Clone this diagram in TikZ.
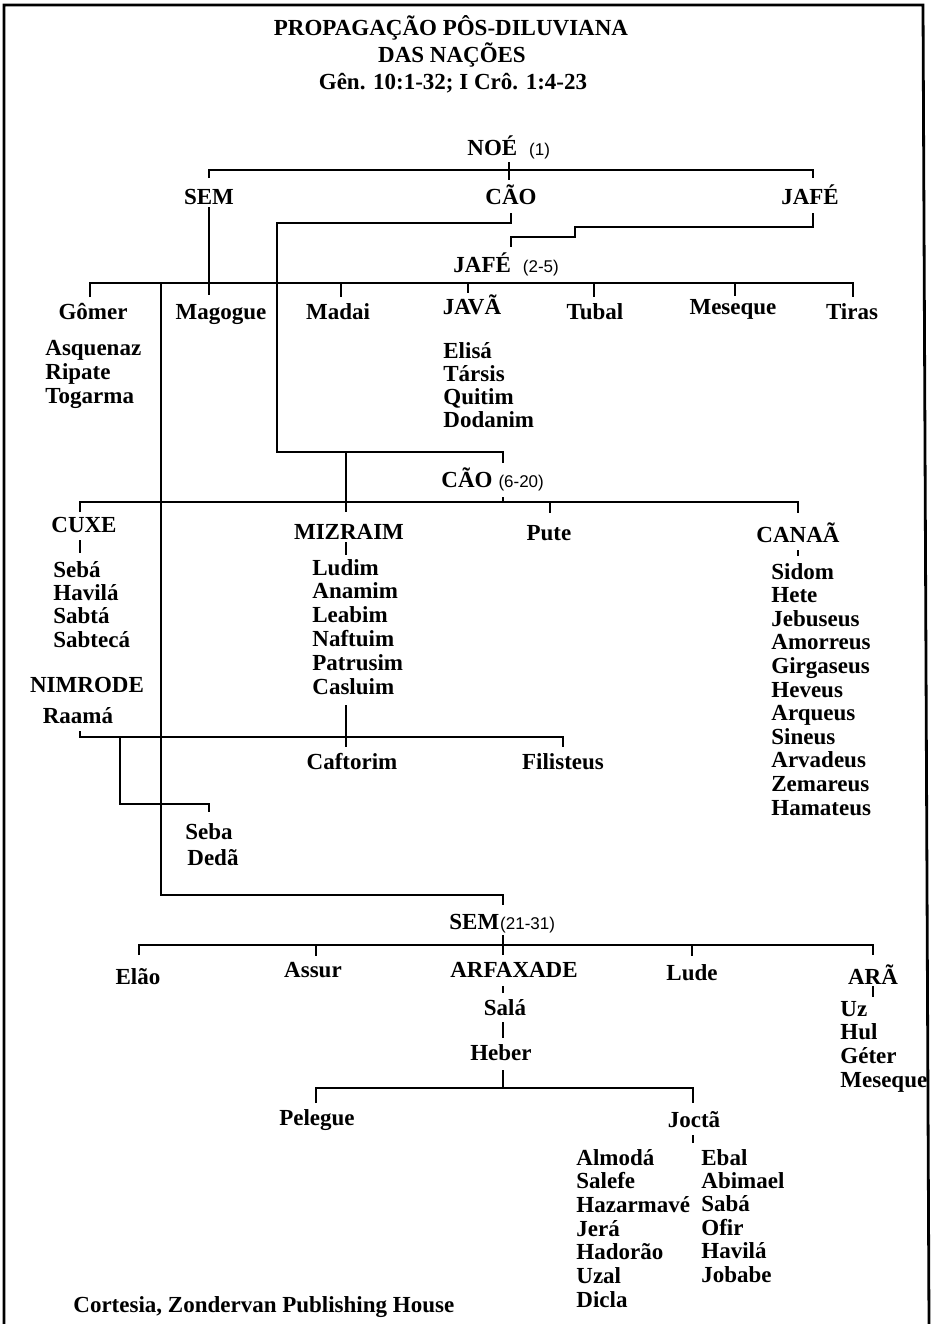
\documentclass[tikz,border=0pt]{standalone}
\usepackage{fontspec}
\setmainfont{Liberation Serif}
\newfontfamily\parfont{Liberation Sans}
\newcommand\pn[1]{{\parfont\mdseries\fontsize{8.5}{10}\selectfont #1}}
\begin{document}
\begin{tikzpicture}[x=0.5pt,y=-0.5pt,
  lbl/.style={font=\fontsize{11.5}{13}\selectfont\bfseries, inner sep=0pt, anchor=base},
  lst/.style={lbl, anchor=base west},
  ln/.style={line width=1pt, line cap=butt, line join=miter},
  frame/.style={line width=1.4pt}]
\useasboundingbox (0,0) rectangle (937,1324);
% frame (open at the bottom)
\draw[frame] (4,1324) -- (4,5) -- (923,5) -- (929,1324);

% title
\node[lbl] (t1) at (451,35) {PROPAGAÇÃO PÔS-DILUVIANA};
\node[lbl] (t2) at (452,62) {DAS NAÇÕES};
\node[lbl] (t3) at (453,89) {Gên. 10:1-32; I Crô. 1:4-23};

% Noé and sons
\node[lst] (noe) at (467,155) {NOÉ\hspace{6pt}\pn{(1)}};
\node[lbl] (sem) at (209,204) {SEM};
\node[lbl] (cao) at (511,204) {CÃO};
\node[lbl] (jafe) at (810,204) {JAFÉ};
\draw[ln] (509,162) -- (509,180);
\draw[ln] (209,178) -- (209,170) -- (813,170) -- (813,178);

% Jafé (2-5)
\node[lst] (jafe2) at (453,272) {JAFÉ\hspace{6pt}\pn{(2-5)}};
\draw[ln] (813,213) -- (813,227) -- (575,227) -- (575,237) -- (511,237) -- (511,247);
\draw[ln] (90,297) -- (90,283) -- (853,283) -- (853,297);
\foreach \x/\y in {341/297,468/293,594/297,735/296} \draw[ln] (\x,283) -- (\x,\y);

\node[lbl] (gomer) at (93,319) {Gômer};
\node[lbl] (magogue) at (221,319) {Magogue};
\node[lbl] (madai) at (338,319) {Madai};
\node[lbl] (java) at (472,314) {JAVÃ};
\node[lbl] (tubal) at (595,319) {Tubal};
\node[lbl] (meseque) at (733,314) {Meseque};
\node[lbl] (tiras) at (852,319) {Tiras};

\foreach \t [count=\i] in {Asquenaz,Ripate,Togarma}
  \node[lst] (go\i) at (45,{355+(\i-1)*24}) {\t};
\foreach \t [count=\i] in {Elisá,Társis,Quitim,Dodanim}
  \node[lst] (ja\i) at (443,{358+(\i-1)*23}) {\t};

% Sem line down to Sem (21-31)
\draw[ln] (209,207) -- (209,295);
\draw[ln] (161,283) -- (161,895) -- (503,895) -- (503,905);

% Cão line down to Cão (6-20)
\draw[ln] (511,213) -- (511,223) -- (277,223) -- (277,452) -- (503,452) -- (503,463);
\draw[ln] (346,452) -- (346,512);
\node[lst] (cao2) at (441,487) {CÃO\hspace{3pt}\pn{(6-20)}};
\draw[ln] (503,497) -- (503,502);
\draw[ln] (80,512) -- (80,502) -- (798,502) -- (798,513);
\draw[ln] (550,502) -- (550,513);

\node[lbl] (cuxe) at (84,532) {CUXE};
\node[lbl] (mizraim) at (349,539) {MIZRAIM};
\node[lbl] (pute) at (549,540) {Pute};
\node[lbl] (canaa) at (798,542) {CANAÃ};
\draw[ln] (80,540) -- (80,553);
\draw[ln] (346,542) -- (346,555);
\draw[ln] (798,550) -- (798,556);

\foreach \t [count=\i] in {Sebá,Havilá,Sabtá,Sabtecá}
  \node[lst] (cu\i) at (53,{577+(\i-1)*23.4}) {\t};
\node[lbl] (nimrode) at (87,692) {NIMRODE};
\node[lbl] (raama) at (78,723) {Raamá};
\foreach \t [count=\i] in {Ludim,Anamim,Leabim,Naftuim,Patrusim,Casluim}
  \node[lst] (mi\i) at (312,{575+(\i-1)*23.8}) {\t};
\foreach \t [count=\i] in {Sidom,Hete,Jebuseus,Amorreus,Girgaseus,Heveus,Arqueus,Sineus,Arvadeus,Zemareus,Hamateus}
  \node[lst] (ca\i) at (771,{579+(\i-1)*23.6}) {\t};

\draw[ln] (80,731) -- (80,737) -- (563,737) -- (563,747);
\draw[ln] (346,705) -- (346,747);
\draw[ln] (120,737) -- (120,804) -- (209,804) -- (209,812);
\node[lbl] (caftorim) at (352,769) {Caftorim};
\node[lbl] (filisteus) at (563,769) {Filisteus};
\node[lst] (seba) at (185,839) {Seba};
\node[lst] (deda) at (187,865) {Dedã};

% Sem (21-31)
\node[lst] (sem2) at (449,929) {SEM\hspace{0.5pt}\pn{(21-31)}};
\draw[ln] (503,935) -- (503,955);
\draw[ln] (139,955) -- (139,945) -- (873,945) -- (873,955);
\draw[ln] (316,945) -- (316,956);
\draw[ln] (692,945) -- (692,956);

\node[lbl] (elao) at (138,984) {Elão};
\node[lbl] (assur) at (313,977) {Assur};
\node[lbl] (arfaxade) at (514,977) {ARFAXADE};
\node[lbl] (lude) at (692,980) {Lude};
\node[lbl] (ara) at (873,984) {ARÃ};
\draw[ln] (873,986) -- (873,997);
\foreach \t [count=\i] in {Uz,Hul,Géter,Meseque}
  \node[lst] (ar\i) at (840,{1016+(\i-1)*23.7}) {\t};

\draw[ln] (503,986) -- (503,993);
\node[lbl] (sala) at (505,1015) {Salá};
\draw[ln] (503,1022) -- (503,1038);
\node[lbl] (heber) at (501,1060) {Heber};
\draw[ln] (503,1070) -- (503,1088);
\draw[ln] (316,1103) -- (316,1088) -- (693,1088) -- (693,1103);
\node[lbl] (pelegue) at (317,1125) {Pelegue};
\node[lbl] (jocta) at (694,1127) {Joctã};
\draw[ln] (693,1135) -- (693,1143);

\foreach \t [count=\i] in {Almodá,Salefe,Hazarmavé,Jerá,Hadorão,Uzal,Dicla}
  \node[lst] (jl\i) at (576,{1165+(\i-1)*23.7}) {\t};
\foreach \t [count=\i] in {Ebal,Abimael,Sabá,Ofir,Havilá,Jobabe}
  \node[lst] (jr\i) at (701,{1165+(\i-1)*23.4}) {\t};

\node[lst] (cortesia) at (73,1312) {Cortesia, Zondervan Publishing House};
\end{tikzpicture}
\end{document}
